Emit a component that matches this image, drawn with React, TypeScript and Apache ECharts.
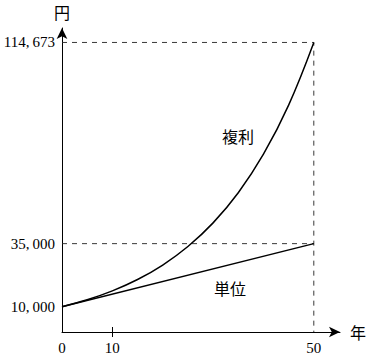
import React, { useEffect, useRef } from "react";
import * as echarts from "echarts";

const years = [0, 5, 10, 15, 20, 25, 30, 35, 40, 45, 50];
const compound = [10000, 12763, 16289, 20789, 26533, 33864, 43219, 55160, 70400, 89850, 114673];
const simpleYears = [0, 50];
const simple = [10000, 35000];
const yTicks = [10000, 35000, 114673];
const xTicks = [0, 10, 50];
const xTickMarks = [10];
const guideTop = 114673;
const guideMid = 35000;
const guideX = 50;

const numFont = "'Liberation Serif', 'DejaVu Serif', serif";
const cjkFont = "'Noto Sans CJK JP', sans-serif";

function fmt(v: number) {
  const s = Math.round(v).toString();
  if (s.length <= 3) return s;
  return s.slice(0, s.length - 3) + ",\u2009" + s.slice(s.length - 3);
}

export default function App() {
  const ref = useRef<HTMLDivElement>(null);
  useEffect(() => {
    if (!ref.current) return;
    const chart = echarts.init(ref.current, undefined, { renderer: "svg" });
    const lineStyle = { color: "#000", width: 1 };
    const cjkStyle = { fontFamily: cjkFont, fontSize: 16, fontWeight: "normal", fill: "#000", align: "center", verticalAlign: "middle" };
    chart.setOption({
      animation: false,
      backgroundColor: "#fff",
      grid: { left: 62, right: 32, top: 28, bottom: 22, outerBoundsMode: "none" },
      xAxis: [
        {
          type: "value",
          min: 0,
          max: 55.2,
          splitLine: { show: false },
          axisLine: { show: true, onZero: false, lineStyle, symbol: ["none", "arrow"], symbolSize: [8, 11] },
          axisTick: { show: true, length: 5, customValues: xTickMarks, lineStyle },
          axisLabel: {
            customValues: xTicks,
            formatter: (v: number) => fmt(v),
            color: "#000",
            fontFamily: numFont,
            fontSize: 15,
            margin: 8,
          },
          name: "年",
          nameLocation: "end",
          nameGap: 10,
          nameTextStyle: { fontFamily: cjkFont, fontSize: 16, color: "#000" },
        },
        {
          type: "value",
          min: 0,
          max: 55.2,
          position: "bottom",
          splitLine: { show: false },
          axisLine: { show: false },
          axisTick: { show: true, inside: true, length: 5, customValues: xTickMarks, lineStyle },
          axisLabel: { show: false },
        },
      ],
      yAxis: {
        type: "value",
        min: 0,
        max: 120400,
        splitLine: { show: false },
        axisLine: { show: true, onZero: false, lineStyle, symbol: ["none", "arrow"], symbolSize: [8, 11] },
        axisTick: { show: false },
        axisLabel: {
          customValues: yTicks,
          formatter: (v: number) => fmt(v),
          color: "#000",
          fontFamily: numFont,
          fontSize: 15,
          margin: 7,
        },
        name: "円",
        nameLocation: "end",
        nameGap: 8,
        nameTextStyle: { fontFamily: cjkFont, fontSize: 16, color: "#000", align: "center" },
      },
      series: [
        {
          type: "line",
          data: [
            [0, guideTop],
            [guideX, guideTop],
            [guideX, 0],
          ],
          symbol: "none",
          lineStyle: { color: "#222", width: 0.9, type: [5, 5] },
          silent: true,
        },
        {
          type: "line",
          data: [
            [0, guideMid],
            [guideX, guideMid],
          ],
          symbol: "none",
          lineStyle: { color: "#222", width: 0.9, type: [5, 5] },
          silent: true,
        },
        {
          type: "line",
          data: years.map((y, i) => [y, compound[i]]),
          smooth: 0.4,
          symbol: "none",
          lineStyle: { color: "#000", width: 1.5 },
        },
        {
          type: "line",
          data: simpleYears.map((y, i) => [y, simple[i]]),
          symbol: "none",
          lineStyle: { color: "#000", width: 1.5 },
        },
      ],
      graphic: [
        { type: "text", x: 238, y: 136, style: { ...cjkStyle, text: "複利" } },
        { type: "text", x: 230, y: 288, style: { ...cjkStyle, text: "単位" } },
      ],
    });
    return () => chart.dispose();
  }, []);
  return (
    <div
      ref={ref}
      style={{ position: "fixed", left: 0, top: 0, width: 372, height: 354 }}
    />
  );
}
